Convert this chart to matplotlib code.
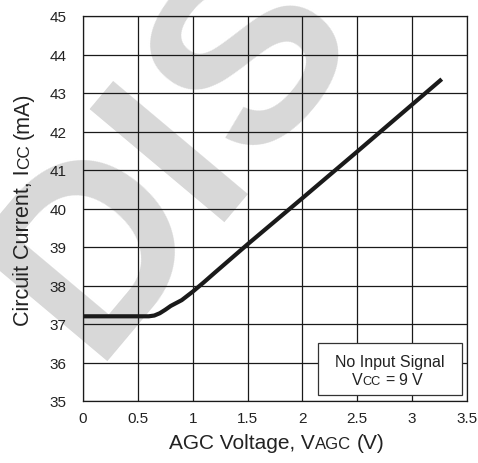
import matplotlib
matplotlib.use("Agg")
import matplotlib.pyplot as plt
from matplotlib.patches import Rectangle
import math

# ---- data ----
voltage = [0.0, 0.3, 0.6, 0.65, 0.7, 0.75, 0.8, 0.9, 1.0, 1.1, 1.2, 1.5, 2.0, 2.5, 3.0, 3.27]
current = [37.2, 37.2, 37.2, 37.22, 37.28, 37.37, 37.47, 37.62, 37.84, 38.08, 38.33, 39.07, 40.27, 41.48, 42.7, 43.36]
xticks = [0, 0.5, 1, 1.5, 2, 2.5, 3, 3.5]
xticklabels = ["0", "0.5", "1", "1.5", "2", "2.5", "3", "3.5"]
yticks = [35, 36, 37, 38, 39, 40, 41, 42, 43, 44, 45]
watermark_letters = ["D", "I", "S"]

W, H = 478, 464
plt.rcParams['font.family'] = ['Liberation Sans', 'DejaVu Sans']

fig = plt.figure(figsize=(W / 100, H / 100), dpi=100)
fig.patch.set_facecolor('white')

def fx(px):
    return px / W

def fy(py):
    return 1 - py / H

# watermark (behind everything): letters placed along a 50-degree baseline
ang = math.radians(50)
origin = (231, 195)          # baseline centre of the "I" (pixels from top-left)
offsets = [-125, 0, 121]     # ink centres along the baseline (pixels)
for letter, u in zip(watermark_letters, offsets):
    px = origin[0] + u * math.cos(ang)
    py = origin[1] - u * math.sin(ang)
    fig.text(fx(px), fy(py), letter, fontsize=184, fontweight='bold',
             color='#d8d8d8', rotation=50, rotation_mode='anchor',
             ha='center', va='baseline', zorder=-5)

ax = fig.add_axes([fx(83), fy(402), fx(467) - fx(83), fy(17) - fy(402)])
ax.set_facecolor('none')
ax.set_xlim(0, 3.5)
ax.set_ylim(35, 45)
ax.set_xticks(xticks)
ax.set_xticklabels(xticklabels)
ax.set_yticks(yticks)
ax.grid(True, color='#1a1a1a', linewidth=0.9)
ax.set_axisbelow(True)
for sp in ax.spines.values():
    sp.set_color('#1a1a1a')
    sp.set_linewidth(0.9)
ax.tick_params(axis='both', length=0, labelsize=11, colors='#222222')
ax.tick_params(axis='x', pad=7)
ax.tick_params(axis='y', pad=12)

ax.plot(voltage, current, color='#1a1a1a', linewidth=3.0, solid_capstyle='butt',
        zorder=5, clip_on=False)

# legend-like box
ax.add_patch(Rectangle((0.612, 0.0156), 0.375, 0.135, transform=ax.transAxes,
                       facecolor='white', edgecolor='#333333', linewidth=0.9, zorder=6))

renderer = fig.canvas.get_renderer()

def space_width(size):
    a = fig.text(0, 0, "x x", fontsize=size)
    b = fig.text(0, 0, "xx", fontsize=size)
    w = a.get_window_extent(renderer).width - b.get_window_extent(renderer).width
    a.remove(); b.remove()
    return w

def rich(pieces, cx, cy, size, rotation=0, zorder=7, color='#222222'):
    """pieces: list of (text, scale, leading_space). cx, cy in pixels (baseline centre)."""
    sw = space_width(size)
    items = []
    total = 0.0
    for s, sc, lead in pieces:
        t = fig.text(0, 0, s, fontsize=size * sc, rotation=rotation, rotation_mode='anchor',
                     ha='left', va='baseline', zorder=zorder, color=color)
        bb = t.get_window_extent(renderer)
        w = bb.width if rotation == 0 else bb.height
        gap = sw if lead else 0.0
        items.append((t, total + gap))
        total += gap + w
    for t, off in items:
        if rotation == 0:
            t.set_position((fx(cx - total / 2 + off), fy(cy)))
        else:
            t.set_position((fx(cx), fy(cy + total / 2 - off)))

# axis labels
rich([("AGC Voltage, V", 1, False), ("AGC", 0.8, False), ("(V)", 1, True)], 276.5, 449, 15)
rich([("Circuit Current, I", 1, False), ("CC", 0.8, False), ("(mA)", 1, True)], 29, 209, 15.5, rotation=90)

# box text
rich([("No Input Signal", 1, False)], 389.5, 367, 11.5)
rich([("V", 1, False), ("CC", 0.8, False), ("=", 1, True), ("9", 1, True), ("V", 1, True)], 387, 385, 11.5)

fig.savefig("out.png", dpi=100, facecolor='white')
